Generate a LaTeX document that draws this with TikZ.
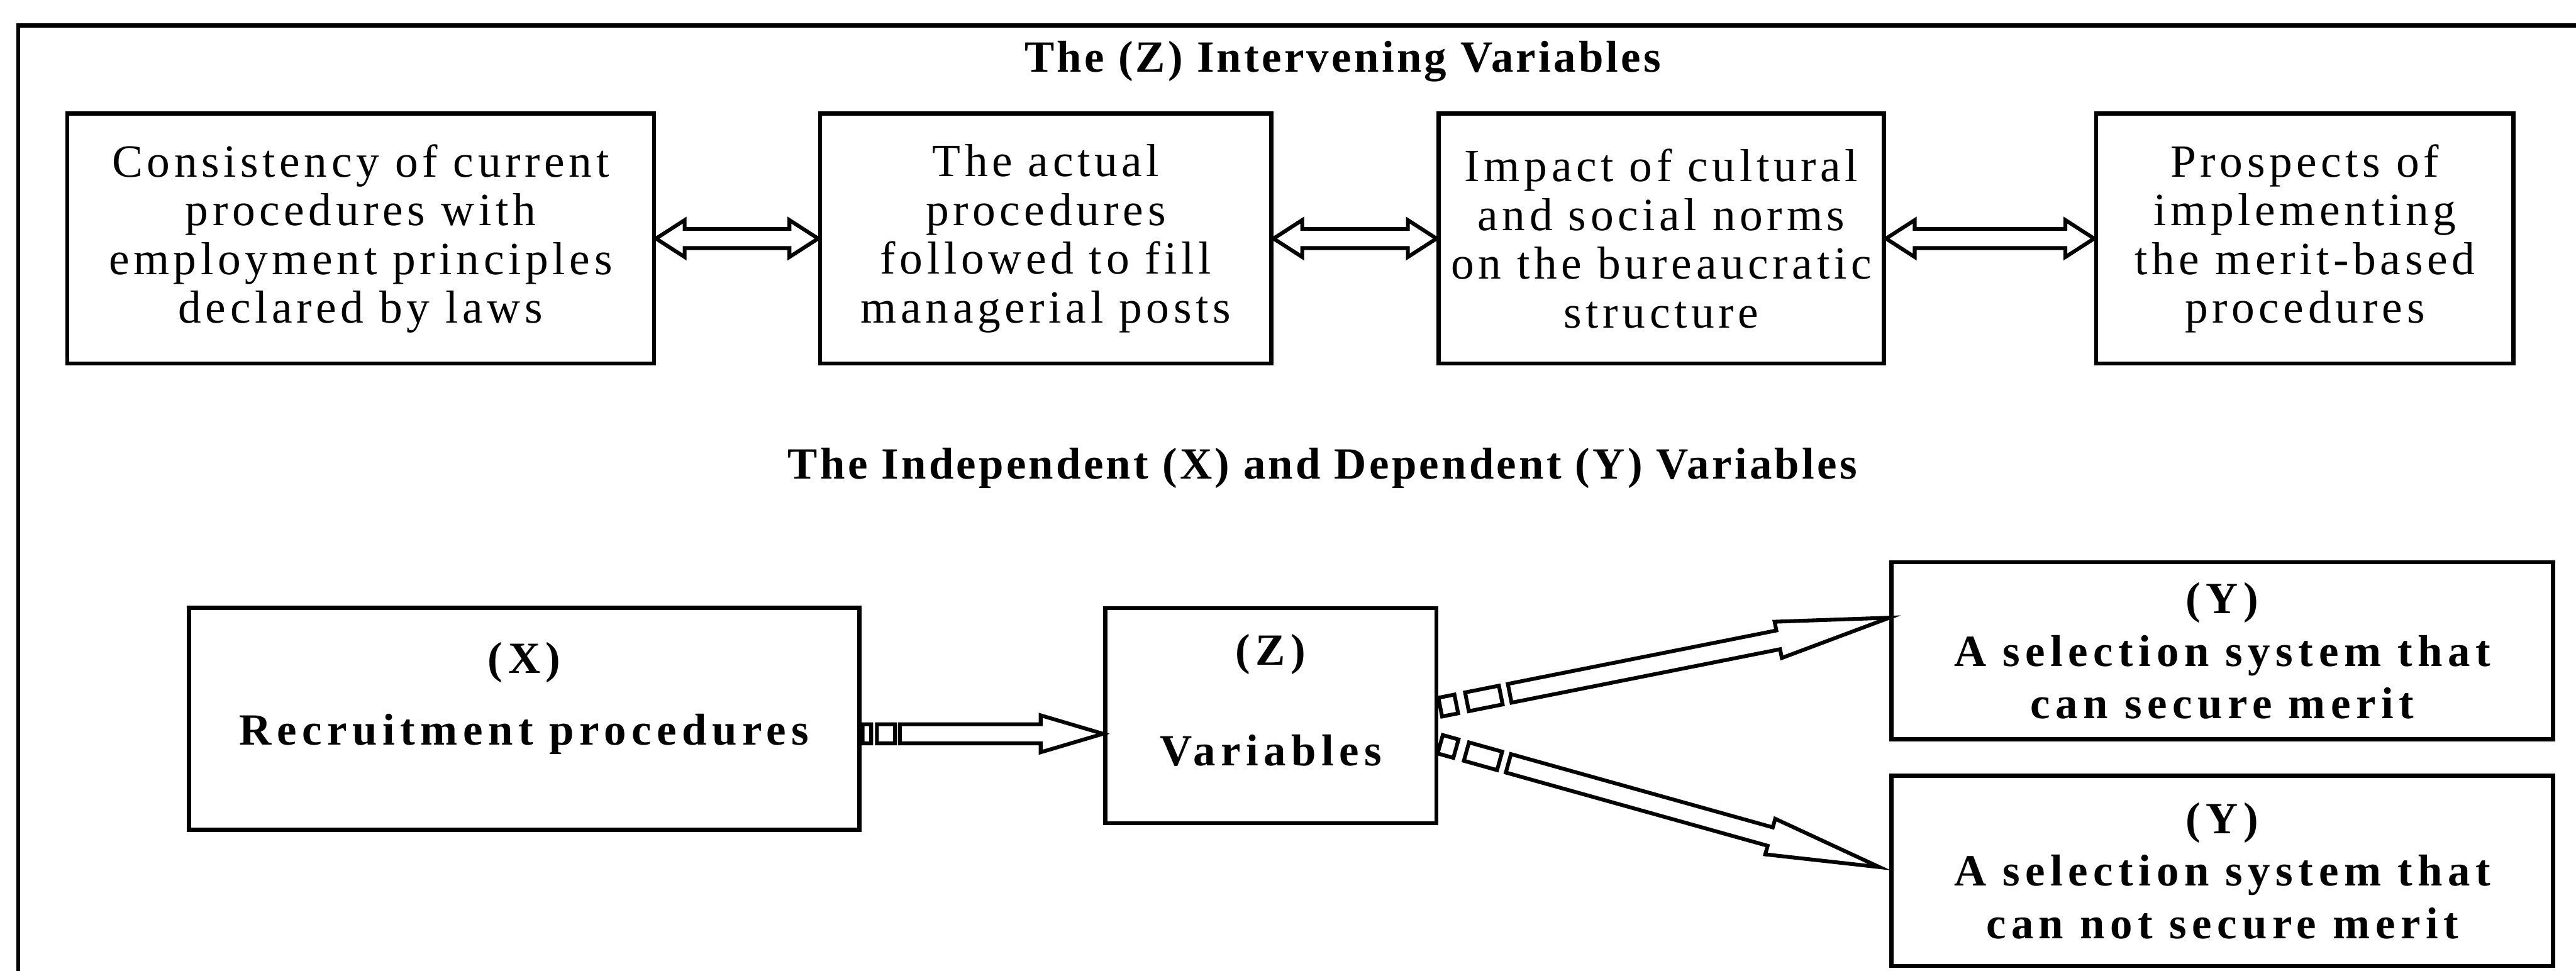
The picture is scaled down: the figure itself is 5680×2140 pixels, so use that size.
\documentclass[tikz,border=0pt]{standalone}
\usepackage{fontspec}
\setmainfont{Liberation Serif}
\newfontfamily\boxfont[LetterSpace=9]{Liberation Serif}
\newfontfamily\keyfont[LetterSpace=12]{Liberation Serif}
\newfontfamily\headfont[LetterSpace=6]{Liberation Serif}
\usetikzlibrary{calc}

\tikzset{
  varbox/.style={draw, line width=1.3pt, align=center, inner sep=0pt,
    minimum height=2.76cm, font=\boxfont\fontsize{14.5}{15.3}\selectfont},
  keybox/.style={draw, line width=1.3pt, align=center, inner sep=0pt,
    font=\keyfont\bfseries\fontsize{14}{16.5}\selectfont},
  headtext/.style={inner sep=0pt, font=\headfont\bfseries\fontsize{14}{16}\selectfont},
  arrowline/.style={draw, line width=1.2pt, fill=white},
  frameline/.style={line width=1.3pt}
}

% hollow two-headed arrow between two points
\newcommand{\dblarrow}[2]{%
  \draw[arrowline] let \p1=($(#2)-(#1)$), \n1={atan2(\y1,\x1)},
      \n2={veclen(\x1,\y1)} in [shift={(#1)}, rotate=\n1]
    (0pt,0pt) -- (9pt,5.8pt) -- (9pt,3pt) -- ({\n2-9pt},3pt)
    -- ({\n2-9pt},5.8pt) -- (\n2,0pt) -- ({\n2-9pt},-5.8pt)
    -- ({\n2-9pt},-3pt) -- (9pt,-3pt) -- (9pt,-5.8pt) -- cycle;
}
% hollow arrow with two small blocks at its tail
% #1 tail, #2 tip, #3 head length, #4 block unit
\newcommand{\stripearrow}[4]{%
  \draw[arrowline] let \p1=($(#2)-(#1)$), \n1={atan2(\y1,\x1)},
      \n2={veclen(\x1,\y1)} in [shift={(#1)}, rotate=\n1]
    ({0.1*#4},-3pt) -- (#4,-3pt) -- (#4,3pt) -- ({0.1*#4},3pt) -- cycle
    ({1.6*#4},-3pt) -- ({3.5*#4},-3pt) -- ({3.5*#4},3pt) -- ({1.6*#4},3pt) -- cycle
    ({4*#4},-3pt) -- ({\n2-#3},-3pt) -- ({\n2-#3},-5.8pt) -- (\n2,0pt)
    -- ({\n2-#3},5.8pt) -- ({\n2-#3},3pt) -- ({4*#4},3pt) -- cycle;
}

\begin{document}
\begin{tikzpicture}[x=0.005cm,y=-0.005cm]
  \useasboundingbox (0,0) rectangle (5680,2140);
  \draw[frameline] (5700,56) -| (40,2160);

  % intervening variables
  \node[headtext] (ztitle) at (2961,135) {The (Z) Intervening Variables};
  \node[varbox, minimum width=6.475cm] (consist) at (795,526)
    {Consistency of current\\procedures with\\employment principles\\declared by laws};
  \node[varbox, minimum width=4.98cm] (actual) at (2306,526)
    {The actual\\procedures\\followed to fill\\managerial posts};
  \node[varbox, minimum width=4.915cm] (norms) at (3663,526)
    {Impact of cultural\\and social norms\\on the bureaucratic\\structure};
  \node[varbox, minimum width=4.605cm] (prospects) at (5082,526)
    {Prospects of\\implementing\\the merit-based\\procedures};
  \dblarrow{consist.east}{actual.west}
  \dblarrow{actual.east}{norms.west}
  \dblarrow{norms.east}{prospects.west}

  % independent and dependent variables
  \node[headtext] (xytitle) at (2916,1032)
    {The Independent (X) and Dependent (Y) Variables};
  \node[keybox, minimum width=7.4cm, minimum height=2.45cm, text depth=16pt]
    (xbox) at (1156,1585) {(X)\\[6pt]Recruitment procedures};
  \node[keybox, minimum width=3.655cm, minimum height=2.375cm, text depth=10pt]
    (zbox) at (2802,1578) {(Z)\\[15pt]Variables};
  \node[keybox, minimum width=7.3cm, minimum height=1.955cm]
    (meritbox) at (4900,1435) {(Y)\\A selection system that\\can secure merit};
  \node[keybox, minimum width=7.3cm, minimum height=2.1cm]
    (nomeritbox) at (4900,1920) {(Y)\\A selection system that\\can not secure merit};

  \coordinate (xztail) at ($(xbox.east)+(0,33)$);
  \coordinate (xztip) at ($(zbox.west)+(0,40)$);
  \coordinate (meritTail) at ($(zbox.east)+(0,-18)$);
  \coordinate (meritTip) at ($(meritbox.west)+(0,-73)$);
  \coordinate (nomeritTail) at ($(zbox.east)+(0,62)$);
  \coordinate (nomeritTip) at ($(nomeritbox.west)+(-22,-8)$);
  \stripearrow{xztail}{xztip}{19.6pt}{3pt}
  \stripearrow{meritTail}{meritTip}{35.6pt}{5.7pt}
  \stripearrow{nomeritTail}{nomeritTip}{35.6pt}{5.7pt}
\end{tikzpicture}
\end{document}
